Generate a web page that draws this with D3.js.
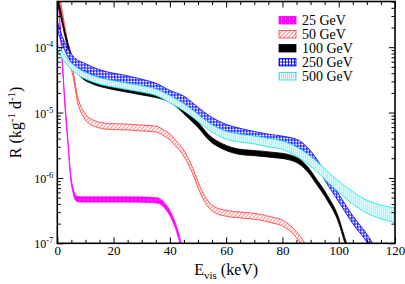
<!DOCTYPE html>
<html>
<head>
<meta charset="utf-8">
<script src="https://cdn.jsdelivr.net/npm/d3@7"></script>
<style>
  body { margin: 0; background: #fff; }
  svg { display: block; }
  text { font-family: "Liberation Serif", "Times New Roman", serif; fill: #000; }
</style>
</head>
<body>
<div class="chart"></div>
<script>
// Recoil rate spectra for several WIMP masses (bands = uncertainty)
var labels = ["25 GeV", "50 GeV", "100 GeV", "250 GeV", "500 GeV"];

// energies (keV) and central rates (kg^-1 d^-1)
var e25 = [0, 0.4, 1.5, 2.7, 3.8, 4.9, 5.6, 6.3, 7.4, 9, 15, 25, 33, 36, 38, 40, 42, 44, 45];
var r25 = [9.3e-4, 5.1e-4, 9.3e-5, 1.38e-5, 3.47e-6, 9.3e-7, 6.5e-7, 5.1e-7, 4.73e-7, 4.68e-7, 4.68e-7, 4.68e-7, 4.62e-7, 4.47e-7, 3.85e-7, 2.9e-7, 1.84e-7, 9.3e-8, 6e-8];

var e50 = [0, 1, 2, 3, 4, 5, 6, 7, 8, 9, 10, 12, 14.6, 17, 20, 25, 30, 35, 38, 40.7, 42, 44, 46, 48, 50, 52, 54, 56, 60, 66, 72, 76, 80, 83, 85, 87, 89];
var r50 = [1e-3, 5.1e-4, 2.8e-4, 1.58e-4, 8.9e-5, 5.2e-5, 3.2e-5, 1.74e-5, 1.23e-5, 1.0e-5, 8.5e-6, 7.2e-6, 6.5e-6, 6.2e-6, 6.1e-6, 6.0e-6, 5.8e-6, 5.6e-6, 4.83e-6, 4.0e-6, 3.4e-6, 2.75e-6, 2.0e-6, 1.32e-6, 7.9e-7, 5.1e-7, 3.8e-7, 3.24e-7, 2.88e-7, 2.69e-7, 2.51e-7, 2.29e-7, 2.04e-7, 1.66e-7, 1.35e-7, 1.05e-7, 7.6e-8];

var e100 = [0, 1, 2.7, 5, 8, 13, 18, 23, 30, 35, 40, 42, 44, 47, 50, 54, 59, 65, 70, 77, 82, 86, 89, 92, 96, 100, 102, 104];
var r100 = [5.6e-4, 3.55e-4, 1.62e-4, 7.1e-5, 4.0e-5, 2.95e-5, 2.57e-5, 2.32e-5, 2.04e-5, 1.86e-5, 1.58e-5, 1.38e-5, 1.15e-5, 8.7e-6, 6.5e-6, 4.1e-6, 3.0e-6, 2.5e-6, 2.4e-6, 2.24e-6, 2.09e-6, 1.78e-6, 1.35e-6, 8.9e-7, 4.9e-7, 2.24e-7, 1.17e-7, 6.3e-8];

var e250 = [0, 1, 3, 6.3, 10, 13.4, 18, 23, 30, 35, 40, 45, 50, 54, 60, 65, 70, 75, 80, 86, 91, 96, 100.5, 105, 110.5, 114];
var r250 = [2.14e-4, 1.58e-4, 9.5e-5, 5.9e-5, 4.9e-5, 4.17e-5, 3.63e-5, 3.31e-5, 2.82e-5, 2.45e-5, 1.9e-5, 1.55e-5, 1.05e-5, 7.8e-6, 5.75e-6, 5.0e-6, 4.47e-6, 4.07e-6, 3.8e-6, 3.24e-6, 2.0e-6, 9.1e-7, 4.57e-7, 2.29e-7, 1.12e-7, 6.3e-8];

var e500 = [0, 2.7, 7.5, 13.4, 23, 30, 35, 40, 45, 50, 54, 60, 65, 70, 75, 80, 86, 91, 96, 103, 110, 115, 120];
var r500 = [1.0e-4, 6.6e-5, 4.2e-5, 3.2e-5, 2.6e-5, 2.3e-5, 2.05e-5, 1.6e-5, 1.2e-5, 8.3e-6, 6.1e-6, 4.5e-6, 4.07e-6, 3.8e-6, 3.47e-6, 3.16e-6, 2.4e-6, 1.66e-6, 1.05e-6, 5.75e-7, 3.63e-7, 3.02e-7, 2.69e-7];

// band half widths (log10 units)
var w25 = 0.04, w50 = 0.045, w100 = 0.04, w250 = 0.06;
var w500 = [0.05, 0.05, 0.05, 0.05, 0.05, 0.05, 0.05, 0.055, 0.055, 0.055, 0.055, 0.06, 0.06, 0.06, 0.065, 0.065, 0.07, 0.075, 0.08, 0.09, 0.1, 0.105, 0.11];

var xTicks = [0, 20, 40, 60, 80, 100, 120];
var yTicks = [1e-7, 1e-6, 1e-5, 1e-4];

var width = 405, height = 284,
  margin = {top: 1.5, right: 10, bottom: 40.7, left: 57.3},
  plotW = width - margin.left - margin.right,
  plotH = height - margin.top - margin.bottom;

var x = d3.scaleLinear().domain([0, 120]).range([0, plotW]),
  y = d3.scaleLog().domain([1e-7, 5e-4]).range([plotH, 0]);

var svg = d3.select(".chart").append("svg")
  .attr("width", width)
  .attr("height", height);

var defs = svg.append("defs");
defs.append("clipPath").attr("id", "clip")
  .append("rect").attr("width", plotW).attr("height", plotH);

// fill patterns
var pMag = defs.append("pattern").attr("id", "pMag").attr("patternUnits", "userSpaceOnUse")
  .attr("width", 4).attr("height", 4);
pMag.append("rect").attr("width", 4).attr("height", 4).attr("fill", "#ff00ff");
pMag.append("rect").attr("x", 2).attr("y", 2).attr("width", 1).attr("height", 1).attr("fill", "#ffb0ff");

var pRed = defs.append("pattern").attr("id", "pRed").attr("patternUnits", "userSpaceOnUse")
  .attr("width", 4).attr("height", 4);
pRed.append("rect").attr("width", 4).attr("height", 4).attr("fill", "#fff");
pRed.append("path").attr("d", "M-1,1 L1,-1 M0,4 L4,0 M3,5 L5,3")
  .attr("stroke", "#ff3030").attr("stroke-width", 0.8);

var pBlue = defs.append("pattern").attr("id", "pBlue").attr("patternUnits", "userSpaceOnUse")
  .attr("width", 3).attr("height", 3);
pBlue.append("rect").attr("width", 3).attr("height", 3).attr("fill", "#fff");
pBlue.append("path").attr("d", "M0,0.5 H3 M0.5,0 V3")
  .attr("stroke", "#0000ff").attr("stroke-width", 0.9);

var pCyan = defs.append("pattern").attr("id", "pCyan").attr("patternUnits", "userSpaceOnUse")
  .attr("width", 2).attr("height", 2);
pCyan.append("rect").attr("width", 2).attr("height", 2).attr("fill", "#fff");
pCyan.append("rect").attr("width", 1).attr("height", 1).attr("fill", "#00e8f0");

var series = [
  {e: e25, r: r25, w: w25, color: "#ff00ff", fill: "url(#pMag)"},
  {e: e50, r: r50, w: w50, color: "#ff3030", fill: "url(#pRed)"},
  {e: e100, r: r100, w: w100, color: "#000", fill: "#000"},
  {e: e250, r: r250, w: w250, color: "#0000ff", fill: "url(#pBlue)"},
  {e: e500, r: r500, w: w500, color: "#00e8f0", fill: "url(#pCyan)"}
];

var g = svg.append("g")
  .attr("transform", "translate(" + margin.left + "," + margin.top + ")");

var bands = g.append("g").attr("clip-path", "url(#clip)");

series.forEach(function(s) {
  var pts = s.e.map(function(e, i) {
    var w = Array.isArray(s.w) ? s.w[i] : s.w,
      f = Math.pow(10, w);
    return {e: e, lo: s.r[i] / f, hi: s.r[i] * f};
  });
  var area = d3.area()
    .curve(d3.curveMonotoneX)
    .x(function(d) { return x(d.e); })
    .y0(function(d) { return y(d.lo); })
    .y1(function(d) { return y(d.hi); });
  bands.append("path")
    .datum(pts)
    .attr("d", area)
    .attr("fill", s.fill)
    .attr("stroke", s.color)
    .attr("stroke-width", 0.8);
});

// ticks (inward on all four sides)
function minorX() { return d3.range(0, 121, 5).filter(function(v) { return v % 20 !== 0; }); }
function minorY() {
  var out = [];
  [1e-7, 1e-6, 1e-5, 1e-4].forEach(function(d) {
    for (var k = 2; k <= 9; k++) if (d * k <= 5e-4) out.push(d * k);
  });
  return out;
}

g.append("g").attr("transform", "translate(0," + plotH + ")")
  .call(d3.axisBottom(x).tickValues(xTicks).tickSizeInner(-6).tickSizeOuter(0).tickPadding(2))
  .call(styleAxis);
g.append("g").attr("transform", "translate(0," + plotH + ")")
  .call(d3.axisBottom(x).tickValues(minorX()).tickSizeInner(-3.5).tickSizeOuter(0).tickFormat(""))
  .call(styleAxis);
g.append("g")
  .call(d3.axisTop(x).tickValues(xTicks).tickSizeInner(-6).tickSizeOuter(0).tickFormat(""))
  .call(styleAxis);
g.append("g")
  .call(d3.axisTop(x).tickValues(minorX()).tickSizeInner(-3.5).tickSizeOuter(0).tickFormat(""))
  .call(styleAxis);

g.append("g")
  .call(d3.axisLeft(y).tickValues(yTicks).tickSizeInner(-6).tickSizeOuter(0).tickFormat(""))
  .call(styleAxis);
g.append("g")
  .call(d3.axisLeft(y).tickValues(minorY()).tickSizeInner(-3.5).tickSizeOuter(0).tickFormat(""))
  .call(styleAxis);
g.append("g").attr("transform", "translate(" + plotW + ",0)")
  .call(d3.axisRight(y).tickValues(yTicks).tickSizeInner(-6).tickSizeOuter(0).tickFormat(""))
  .call(styleAxis);
g.append("g").attr("transform", "translate(" + plotW + ",0)")
  .call(d3.axisRight(y).tickValues(minorY()).tickSizeInner(-3.5).tickSizeOuter(0).tickFormat(""))
  .call(styleAxis);

function styleAxis(sel) {
  sel.select(".domain").remove();
  sel.selectAll("line").attr("stroke", "#000").attr("stroke-width", 1);
  sel.selectAll("text").attr("font-size", 13).attr("font-family", '"Liberation Serif", serif');
}

// y tick labels with superscripts
yTicks.forEach(function(v) {
  var t = g.append("text")
    .attr("x", -4)
    .attr("y", y(v) + 5)
    .attr("text-anchor", "end")
    .attr("font-size", 12);
  t.append("tspan").text("10");
  t.append("tspan").attr("dy", -5).attr("font-size", 8.5).text(String(Math.round(Math.log10(v))));
});

// frame
g.append("rect")
  .attr("width", plotW).attr("height", plotH)
  .attr("fill", "none").attr("stroke", "#000").attr("stroke-width", 1.6);

// axis titles
var xt = svg.append("text")
  .attr("x", margin.left + plotW / 2)
  .attr("y", 275)
  .attr("text-anchor", "middle")
  .attr("font-size", 16);
xt.append("tspan").text("E");
xt.append("tspan").attr("dy", 4).attr("font-size", 11).text("vis");
xt.append("tspan").attr("dy", -4).text(" (keV)");

var yt = svg.append("text")
  .attr("transform", "translate(21," + (margin.top + plotH / 2) + ") rotate(-90)")
  .attr("text-anchor", "middle")
  .attr("font-size", 16);
yt.append("tspan").text("R (kg");
yt.append("tspan").attr("dy", -6).attr("font-size", 11).text("-1");
yt.append("tspan").attr("dy", 6).text(" d");
yt.append("tspan").attr("dy", -6).attr("font-size", 11).text("-1");
yt.append("tspan").attr("dy", 6).text(")");

// legend
var legend = svg.append("g").attr("transform", "translate(279,16.5)");
series.forEach(function(s, i) {
  var row = legend.append("g").attr("transform", "translate(0," + i * 14 + ")");
  row.append("rect")
    .attr("width", 17).attr("height", 7.5)
    .attr("fill", s.fill).attr("stroke", s.color).attr("stroke-width", 0.8);
  row.append("text")
    .attr("x", 23).attr("y", 8.5)
    .attr("font-size", 14)
    .text(labels[i]);
});
</script>
</body>
</html>
